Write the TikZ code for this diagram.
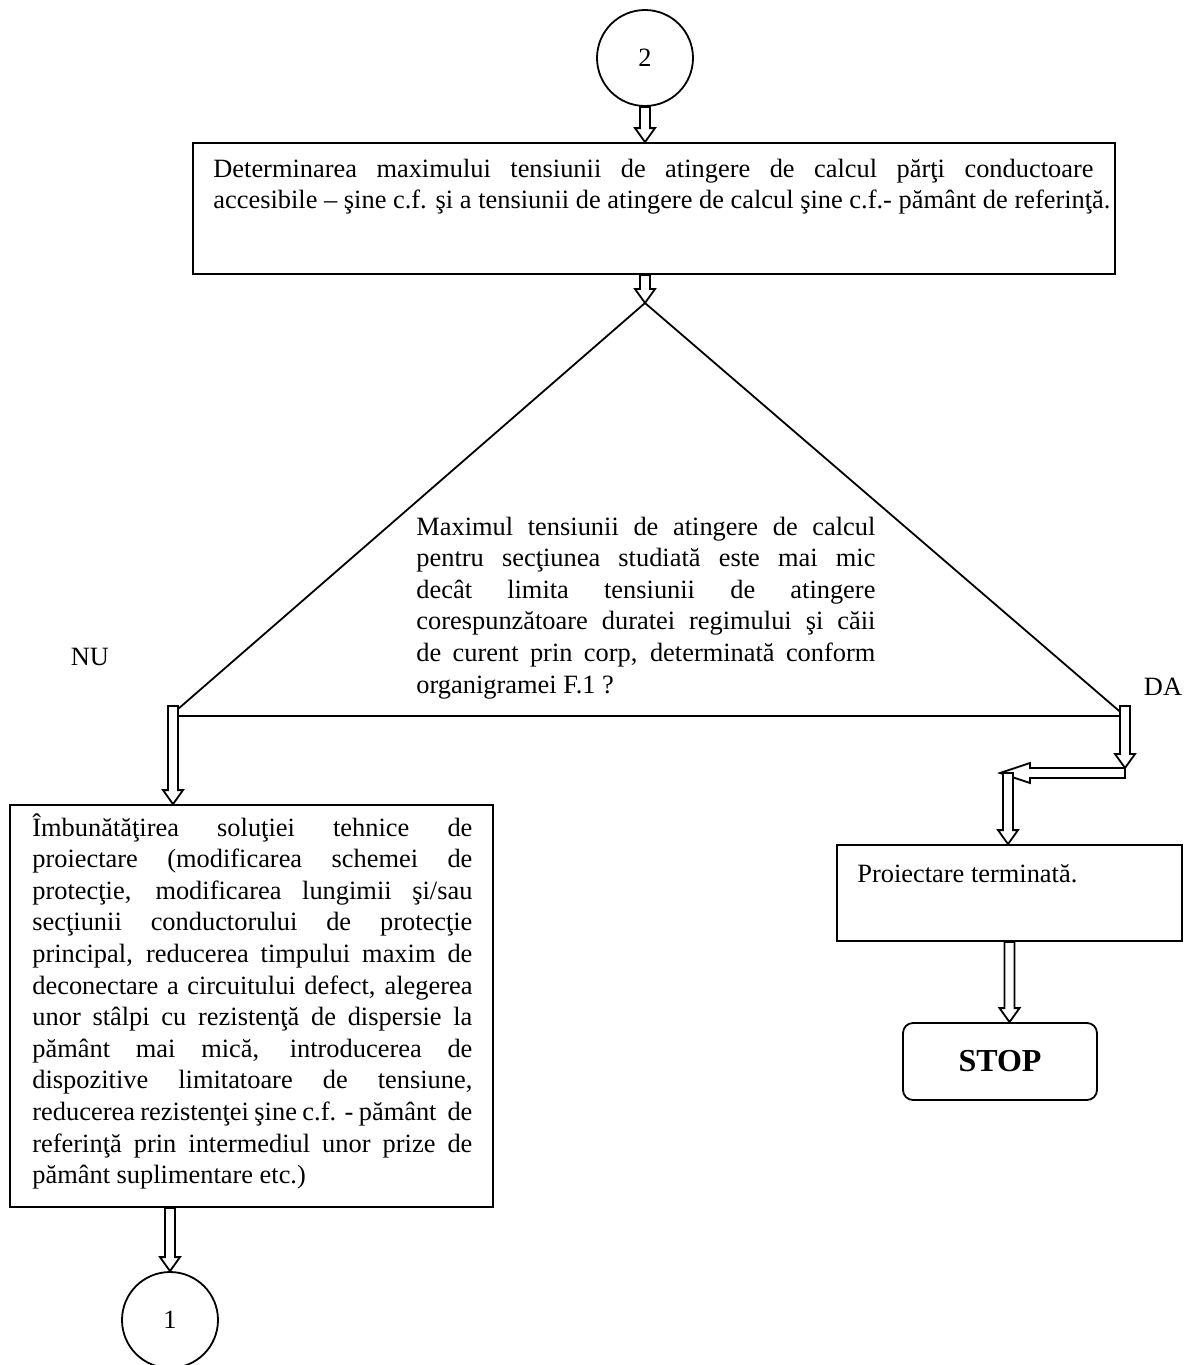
\documentclass[tikz,border=0pt]{standalone}
\usepackage{fontspec}
\setmainfont{Liberation Serif}
\usetikzlibrary{calc}
\newcommand\tf{\fontsize{13.2}{15.8}\selectfont}
\newcommand\jline[2]{\hbox to #1{#2}}
\newcommand\lines[1]{\vtop{\tf\baselineskip=15.8pt\lineskiplimit=-10pt #1}}
\newcommand\vblk[2]{\draw[blk] let \p1=#1, \p2=#2 in
  (\x1-2.5pt,\y1) -- (\x1-2.5pt,\y2+7pt) -- (\x1-5pt,\y2+7pt) -- (\x1,\y2) --
  (\x1+5pt,\y2+7pt) -- (\x1+2.5pt,\y2+7pt) -- (\x1+2.5pt,\y1) -- cycle;}
\newcommand\hblk[2]{\draw[blk] let \p1=#1, \p2=#2 in
  (\x1,\y1+2.5pt) -- (\x2+15pt,\y1+2.5pt) -- (\x2+15pt,\y1+5pt) -- (\x2,\y1) --
  (\x2+15pt,\y1-5pt) -- (\x2+15pt,\y1-2.5pt) -- (\x1,\y1-2.5pt) -- cycle;}
\begin{document}
\begin{tikzpicture}[x=0.5pt,y=-0.5pt,
  line/.style={draw,line width=0.9pt},
  box/.style={line,rectangle,inner sep=0pt},
  circ/.style={line,circle,minimum size=48pt,inner sep=0pt,font=\tf},
  txt/.style={inner sep=0pt,anchor=base west,font=\tf},
  lbl/.style={inner sep=0pt,font=\tf},
  blk/.style={draw,fill=white,line width=0.9pt,line join=miter}]
\useasboundingbox (0,0) rectangle (1192,1365);
\fill[white] (0,0) rectangle (1192,1365);

% start connector circle
\node[circ] (c2) at (645,58) {2};

% top process box
\node[box,minimum width=461pt,minimum height=65.5pt] (top) at (654,208.5) {};
\node[txt] (toptxt) at (213,177) {\lines{%
\jline{440pt}{Determinarea maximului tensiunii de atingere de calcul părţi conductoare}
\jline{448.5pt}{accesibile – şine c.f. şi a tensiunii de atingere de calcul şine c.f.- pământ de referinţă.}}};

% decision triangle
\coordinate (apex) at (645,303);
\coordinate (tl) at (170,716);
\coordinate (tr) at (1125,716);
\draw[line,line join=miter] (tl) -- (apex) -- (tr) -- cycle;
\node[txt] (qtxt) at (416,535) {\lines{%
\jline{229.5pt}{Maximul tensiunii de atingere de calcul}
\jline{229.5pt}{pentru secţiunea studiată este mai mic}
\jline{229.5pt}{decât limita tensiunii de atingere}
\jline{229.5pt}{corespunzătoare duratei regimului şi căii}
\jline{229.5pt}{de curent prin corp, determinată conform}
\hbox{organigramei F.1 ?}}};

\node[lbl] (nu) at (90,657) {NU};
\node[lbl] (da) at (1163,687) {DA};

% left box
\node[box,minimum width=241.5pt,minimum height=201pt] (lbox) at (251.5,1006) {};
\node[txt] (ltxt) at (32,836) {\lines{%
\jline{220pt}{Îmbunătăţirea soluţiei tehnice de}
\jline{220pt}{proiectare (modificarea schemei de}
\jline{220pt}{protecţie, modificarea lungimii şi/sau}
\jline{220pt}{secţiunii conductorului de protecţie}
\jline{220pt}{principal, reducerea timpului maxim de}
\jline{220pt}{deconectare a circuitului defect, alegerea}
\jline{220pt}{unor stâlpi cu rezistenţă de dispersie la}
\jline{220pt}{pământ mai mică, introducerea de}
\jline{220pt}{dispozitive limitatoare de tensiune,}
\jline{220pt}{reducerea rezistenţei şine c.f. - pământ \ de}
\jline{220pt}{referinţă prin intermediul unor prize de}
\hbox{pământ suplimentare etc.)}}};

% end connector circle
\node[circ] (c1) at (170,1320) {1};

% right boxes
\node[box,minimum width=172.5pt,minimum height=48pt] (rbox) at (1009.5,893) {};
\node[txt] (rtxt) at (857,882) {Proiectare terminată.};
\node[box,rounded corners=5pt,minimum width=97pt,minimum height=38.5pt,font=\fontsize{16}{19}\selectfont\bfseries] (stop) at (1000,1061.5) {STOP};

% block arrows
\vblk{(c2.south)}{(c2.south |- top.north)}
\vblk{(top.south -| apex)}{(apex)}
\coordinate (ls) at (173,706);
\vblk{(ls)}{(ls |- lbox.north)}
\coordinate (rs) at (1125,706);
\coordinate (rturn) at (1125,768);
\vblk{(rs)}{(rturn)}
\coordinate (hs) at (1125,773);
\coordinate (he) at (1000,773);
\hblk{(hs)}{(he)}
\coordinate (ds) at (1008,773);
\vblk{(ds)}{(ds |- rbox.north)}
\vblk{(rbox.south)}{(rbox.south |- stop.north)}
\vblk{(lbox.south -| c1)}{(c1.north)}
\end{tikzpicture}
\end{document}
